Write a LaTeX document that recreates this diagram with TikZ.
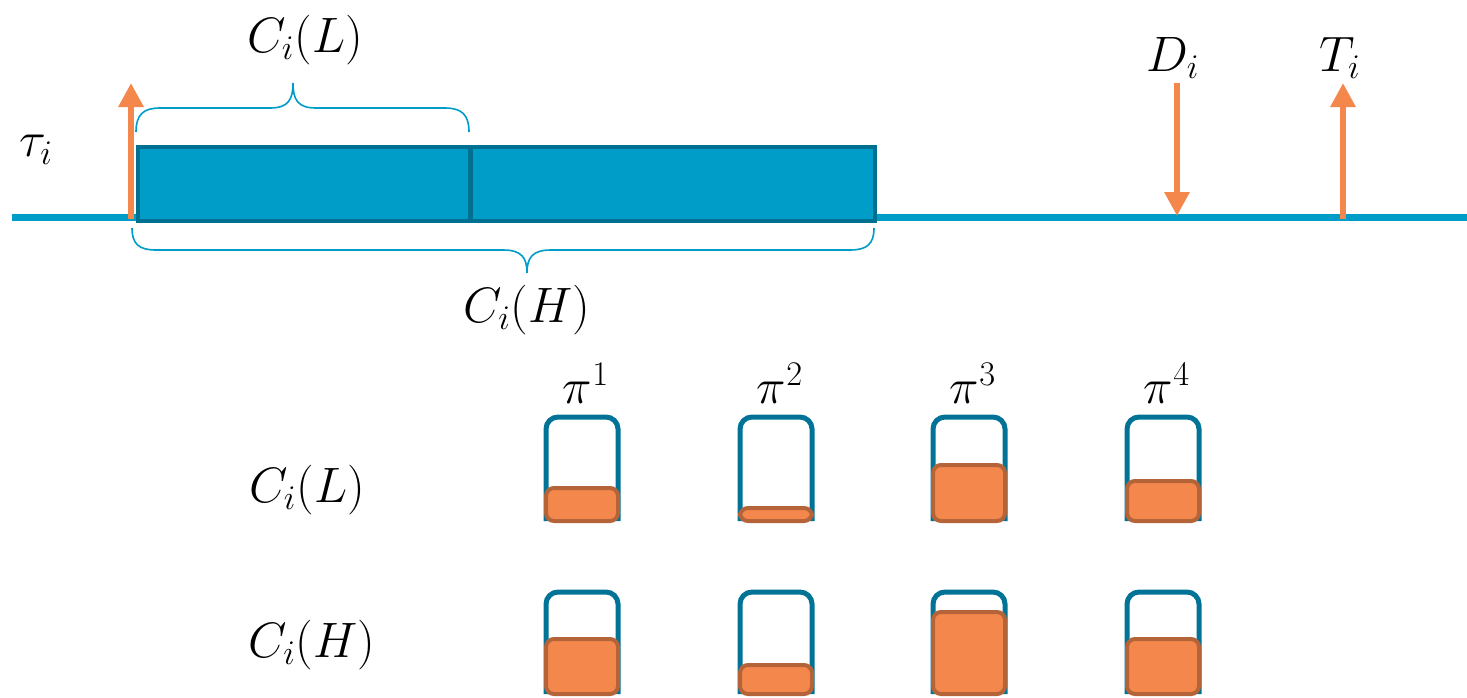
\documentclass[tikz,border=0pt]{standalone}
\usetikzlibrary{arrows.meta}
\definecolor{axisblue}{RGB}{0,157,200}
\definecolor{boxedge}{RGB}{0,112,145}
\definecolor{cont}{RGB}{0,115,150}
\definecolor{orng}{RGB}{244,136,76}
\definecolor{brwn}{RGB}{181,100,58}
\tikzset{
  lbl/.style={inner sep=0pt,font=\fontsize{24}{28}\selectfont},
  oarrow/.style={orng,line width=3pt,-{Triangle[width=12pt,length=12pt]}},
  brc/.style={axisblue,line width=0.8pt},
  task/.style={fill=axisblue,draw=boxedge,line width=2pt},
  cup/.style={draw=cont,line width=2.5pt,rounded corners=6pt},
  lvl/.style={fill=orng,draw=brwn,line width=2pt,rounded corners=4pt},
}
\begin{document}
\begin{tikzpicture}[x=0.5pt,y=-0.5pt]
\useasboundingbox (0,0) rectangle (1467,697);
% timeline
\draw[axisblue,line width=3.5pt] (12,217) -- (1467,217);
% release arrow
\coordinate (r0) at (131,219);
\coordinate (r1) at (131,83);
\draw[oarrow] (r0) -- (r1);
% task boxes
\node[task,minimum width=166pt,minimum height=37pt,inner sep=0pt,anchor=north west] (lo) at (136,145) {};
\node[task,minimum width=202pt,minimum height=37pt,inner sep=0pt,anchor=north west] (hi) at (469,145) {};
% braces
\draw[brc] (136,132) .. controls (136,115) and (143,108) .. (160,108) -- (270,108)
  .. controls (288,108) and (293,100) .. (293,83)
  .. controls (293,100) and (298,108) .. (316,108) -- (445,108)
  .. controls (462,108) and (469,115) .. (469,132);
\draw[brc] (132,228) .. controls (132,244) and (139,250) .. (156,250) -- (503,250)
  .. controls (521,250) and (527,257) .. (527,273)
  .. controls (527,257) and (533,250) .. (551,250) -- (850,250)
  .. controls (867,250) and (874,244) .. (874,228);
% labels
\node[lbl] (cl) at (305,40) {$C_i(L)$};
\node[lbl] (ch) at (527,310) {$C_i(H)$};
\node[lbl] (tau) at (36,150) {$\tau_i$};
\node[lbl] (dl) at (1173,58) {$D_i$};
\node[lbl] (tl) at (1340,58) {$T_i$};
% deadline / period arrows
\coordinate (d0) at (1177,83);
\coordinate (d1) at (1177,216);
\draw[oarrow] (d0) -- (d1);
\coordinate (t0) at (1343,219);
\coordinate (t1) at (1343,83);
\draw[oarrow] (t0) -- (t1);
% processors
\foreach \n/\x/\a/\b in {1/546/488/639, 2/740/508/665, 3/933/465/612, 4/1127/481/639}{
  \node[lbl] (p\n) at (\x+40,383) {$\pi^{\n}$};
  \draw[cup] (\x,521) -- (\x,417) -- (\x+72,417) -- (\x+72,521);
  \draw[lvl] (\x,\a) rectangle (\x+72,521);
  \draw[cup] (\x,694) -- (\x,592) -- (\x+72,592) -- (\x+72,694);
  \draw[lvl] (\x,\b) rectangle (\x+72,694);
}
\node[lbl] (rl) at (307,490) {$C_i(L)$};
\node[lbl] (rh) at (312,645) {$C_i(H)$};
\end{tikzpicture}
\end{document}
